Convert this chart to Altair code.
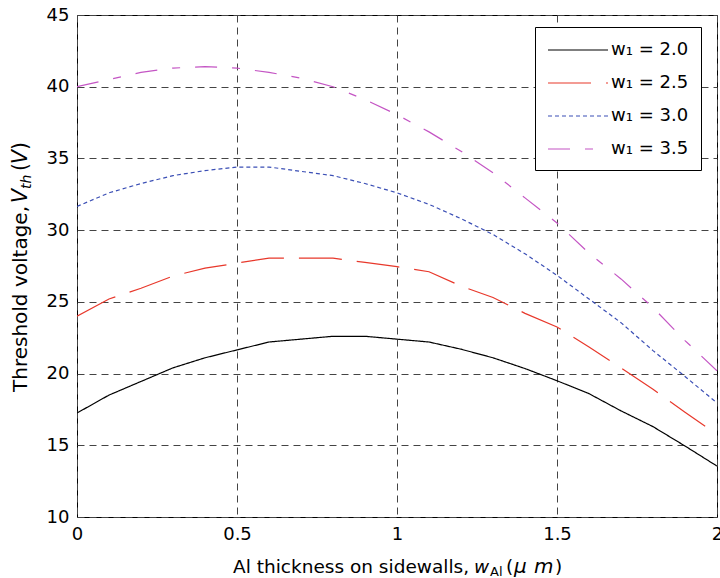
import altair as alt
import pandas as pd

# ---- data ----
x_vals = [0.0, 0.1, 0.2, 0.3, 0.4, 0.5, 0.6, 0.7, 0.8, 0.9, 1.0,
          1.1, 1.2, 1.3, 1.4, 1.5, 1.6, 1.7, 1.8, 1.9, 2.0]
vth_w20 = [17.25, 18.5, 19.45, 20.4, 21.1, 21.65, 22.2, 22.4, 22.6, 22.6, 22.4,
           22.2, 21.7, 21.1, 20.35, 19.5, 18.6, 17.4, 16.3, 14.95, 13.55]
vth_w25 = [24.0, 25.2, 25.95, 26.8, 27.35, 27.7, 28.05, 28.05, 28.05, 27.75, 27.45,
           27.1, 26.1, 25.3, 24.2, 23.25, 21.85, 20.4, 18.9, 17.3, 15.75]
vth_w30 = [31.65, 32.6, 33.25, 33.8, 34.15, 34.4, 34.4, 34.1, 33.8, 33.25, 32.6,
           31.8, 30.8, 29.7, 28.35, 26.85, 25.2, 23.55, 21.6, 19.8, 17.95]
vth_w35 = [40.0, 40.5, 41.0, 41.3, 41.4, 41.3, 41.0, 40.6, 40.0, 39.1, 38.05,
           36.85, 35.5, 34.0, 32.25, 30.5, 28.4, 26.6, 24.6, 22.3, 20.2]

series_labels = ["w\u2081 = 2.0", "w\u2081 = 2.5", "w\u2081 = 3.0", "w\u2081 = 3.5"]
series_colors = ["#000000", "#e8382b", "#3b4fb5", "#c455c4"]
series_dashes = [[1, 0], [43, 15], [4, 3], [22, 15, 8, 15]]

x_ticks = [0, 0.5, 1, 1.5, 2]
y_ticks = [10, 15, 20, 25, 30, 35, 40, 45]

rows = []
for lab, ys in zip(series_labels, [vth_w20, vth_w25, vth_w30, vth_w35]):
    for xv, yv in zip(x_vals, ys):
        rows.append({"x": xv, "y": yv, "series": lab})
df = pd.DataFrame(rows)

FONT = "DejaVu Sans"

legend = alt.Legend(
    title=None, orient="none", legendX=458, legendY=12,
    symbolType="M-3,0L3,0", symbolSize=400, symbolStrokeWidth=1.2,
    symbolOffset=20,
    labelFont=FONT, labelFontSize=18, labelColor="black", labelOffset=22,
    padding=12, strokeColor="black", fillColor="white", rowPadding=13,
)

axis_common = dict(
    title=None, grid=True, gridDash=[7, 5], gridColor="#444444", gridWidth=1,
    domain=False, ticks=False, tickSize=0,
    labelFont=FONT, labelFontSize=18, labelColor="black",
)

lines = alt.Chart(df).mark_line(strokeWidth=1.2, clip=True).encode(
    x=alt.X("x:Q", scale=alt.Scale(domain=[0, 2], nice=False),
            axis=alt.Axis(values=x_ticks, format="~g", labelFlush=False,
                          labelPadding=8, **axis_common)),
    y=alt.Y("y:Q", scale=alt.Scale(domain=[10, 45], nice=False, zero=False),
            axis=alt.Axis(values=y_ticks, labelPadding=8, **axis_common)),
    color=alt.Color("series:N", scale=alt.Scale(domain=series_labels, range=series_colors),
                    legend=legend),
    strokeDash=alt.StrokeDash("series:N", scale=alt.Scale(domain=series_labels, range=series_dashes),
                              legend=legend),
)

one = pd.DataFrame({"a": [0]})


def txt(s, x, y, size=18.5, style="normal", angle=0):
    kw = dict(text=s, font=FONT, fontSize=size, fontStyle=style, align="left",
              baseline="alphabetic", color="black")
    if angle:
        kw["angle"] = angle
    return alt.Chart(one).mark_text(**kw).encode(x=alt.value(x), y=alt.value(y))


# plot origin at (77, 15) in page pixels
xt = [
    txt("Al thickness on sidewalls,", 233 - 77, 573 - 15),
    txt("w", 474 - 77, 573 - 15, style="italic"),
    txt("Al", 490 - 77, 576 - 15, size=13),
    txt("(", 506 - 77, 573 - 15),
    txt("\u03bc", 514 - 77, 573 - 15, size=20, style="italic"),
    txt("m", 534 - 77, 573 - 15, size=20, style="italic"),
    txt(")", 555 - 77, 573 - 15),
]
yt = [
    txt("Threshold voltage,", 27 - 77, 392 - 15, size=20, angle=270),
    txt("V", 27 - 77, 203 - 15, size=20.5, style="italic", angle=270),
    txt("th", 31 - 77, 189 - 15, size=14, style="italic", angle=270),
    txt("(", 27 - 77, 171 - 15, size=20.5, angle=270),
    txt("V", 27 - 77, 164 - 15, size=20.5, style="italic", angle=270),
    txt(")", 27 - 77, 150 - 15, size=20.5, angle=270),
]

chart = alt.layer(lines, *xt, *yt).properties(
    width=640, height=502,
    autosize=alt.AutoSizeParams(type="none"),
    padding={"left": 77, "top": 15, "right": 3, "bottom": 61},
    background="white",
).configure_view(stroke="black", strokeWidth=1)

chart.save("out.html", embed_options={"renderer": "svg", "actions": False})
